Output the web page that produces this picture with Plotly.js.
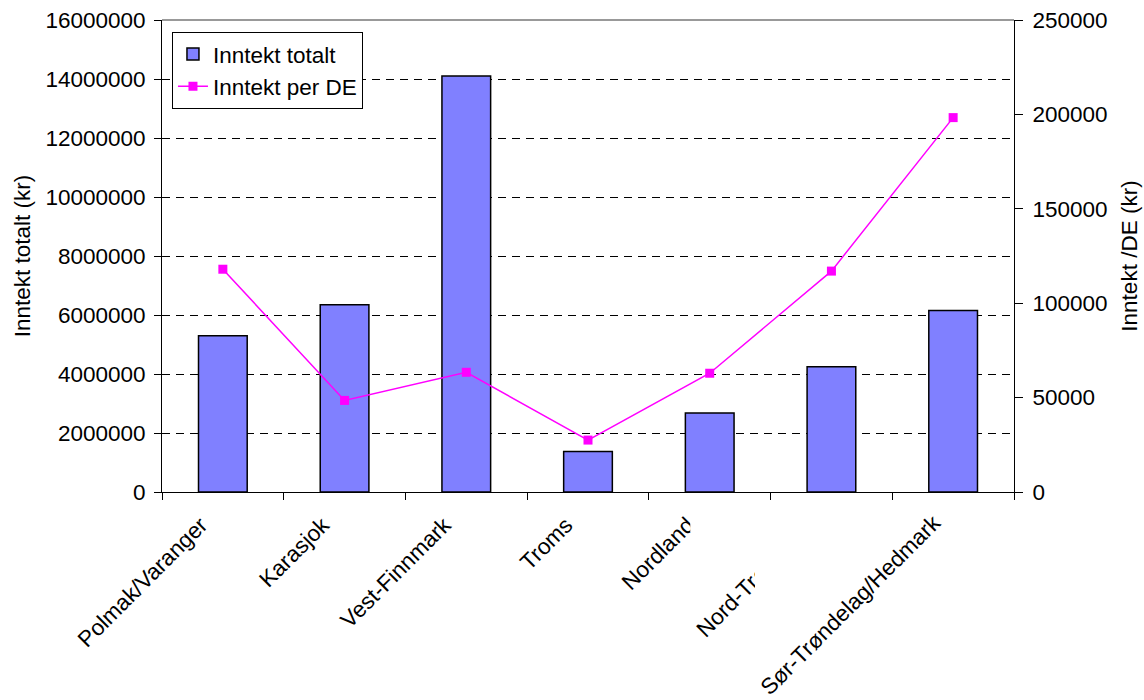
<!DOCTYPE html>
<html><head><meta charset="utf-8">
<script src="https://cdn.plot.ly/plotly-3.0.1.min.js"></script>
<style>html,body{margin:0;padding:0;background:#fff}#chart{width:1144px;height:700px}</style>
</head><body><div id="chart"></div>
<script>
const categories = ["Polmak/Varanger", "Karasjok", "Vest-Finnmark", "Troms", "Nordland", "Nord-Trøndelag", "Sør-Trøndelag/Hedmark"];
const inntektTotalt = [5300000, 6350000, 14100000, 1370000, 2680000, 4250000, 6150000];
const inntektPerDE = [118000, 48500, 63400, 27500, 62900, 117000, 198300];
const leftTickVals = [0, 2000000, 4000000, 6000000, 8000000, 10000000, 12000000, 14000000, 16000000];
const rightTickVals = [0, 50000, 100000, 150000, 200000, 250000];
const seriesNames = ["Inntekt totalt", "Inntekt per DE"];
const axisTitles = {left: "Inntekt totalt (kr)", right: "Inntekt /DE (kr)"};

const FONT = "Liberation Sans, Arial, sans-serif";
const fs = 22.5;

// last category label drawn above the white patch (as in the reference image)
const tickText = categories.map((c, i) => i === categories.length - 1 ? "" : c);

const traces = [
  {
    type: "bar", name: seriesNames[0], x: categories, y: inntektTotalt,
    marker: {color: "#8080FF", line: {color: "#000000", width: 1.5}},
    yaxis: "y"
  },
  {
    type: "scatter", mode: "lines+markers", name: seriesNames[1], x: categories, y: inntektPerDE,
    line: {color: "#FF00FF", width: 1.5},
    marker: {symbol: "square", size: 9, color: "#FF00FF"},
    yaxis: "y2"
  }
];

const layout = {
  width: 1144, height: 700,
  margin: {l: 162, r: 130, t: 20, b: 208},
  paper_bgcolor: "#ffffff", plot_bgcolor: "#ffffff",
  font: {family: FONT, size: fs, color: "#000"},
  bargap: 0.6,
  showlegend: true,
  legend: {
    x: 0.0117, y: 0.975, xanchor: "left", yanchor: "top",
    bgcolor: "#ffffff", bordercolor: "#000000", borderwidth: 1,
    font: {family: FONT, size: fs, color: "#000"}, traceorder: "normal"
  },
  xaxis: {
    type: "category", range: [-0.5, categories.length - 0.5],
    tickmode: "array", tickvals: categories, ticktext: tickText,
    tickson: "boundaries", ticks: "outside", ticklen: 7, tickcolor: "#000",
    tickangle: -45, tickfont: {family: FONT, size: fs, color: "#000"},
    ticklabelstandoff: 10, ticklabelshift: -22,
    showline: true, linecolor: "#000", linewidth: 1,
    showgrid: false, zeroline: false, fixedrange: true
  },
  yaxis: {
    range: [0, 16000000], tickmode: "array", tickvals: leftTickVals,
    ticktext: leftTickVals.map(String),
    ticks: "outside", ticklen: 7, tickcolor: "#000",
    tickfont: {family: FONT, size: fs, color: "#000"},
    ticklabelstandoff: 4,
    showline: true, linecolor: "#000", linewidth: 1,
    showgrid: true, gridcolor: "#000", gridwidth: 1, griddash: "8px,6px",
    zeroline: false,
    title: {text: axisTitles.left, font: {family: FONT, size: fs, color: "#000"}, standoff: 8}
  },
  yaxis2: {
    overlaying: "y", side: "right", anchor: "x",
    range: [0, 250000], tickmode: "array", tickvals: rightTickVals,
    ticktext: rightTickVals.map(String),
    ticks: "outside", ticklen: 8, tickcolor: "#000",
    tickfont: {family: FONT, size: fs, color: "#000"},
    ticklabelstandoff: 5,
    showline: true, linecolor: "#000", linewidth: 1,
    showgrid: false, zeroline: false,
    title: {text: axisTitles.right, font: {family: FONT, size: fs, color: "#000"}, standoff: 14}
  },
  shapes: [
    {type: "line", xref: "paper", yref: "paper", x0: 0, x1: 1, y0: 1, y1: 1,
     line: {color: "#777777", width: 1.5}, layer: "above"},
    {type: "rect", xref: "paper", yref: "paper", x0: 0.696, x1: 0.925, y0: -0.445, y1: -0.0424,
     fillcolor: "#ffffff", line: {width: 0}, layer: "above"},
    {type: "rect", xref: "paper", yref: "paper", x0: 0.62, x1: 0.697, y0: -0.085, y1: -0.018,
     fillcolor: "#ffffff", line: {width: 0}, layer: "above"}
  ],
  annotations: [
    {text: categories[categories.length - 1], x: categories[categories.length - 1], xref: "x",
     y: 0, yref: "paper", xanchor: "right", yanchor: "top", textangle: -45,
     showarrow: false, font: {family: FONT, size: fs, color: "#000"}, xshift: -4, yshift: -15}
  ]
};

Plotly.newPlot("chart", traces, layout, {displayModeBar: false, staticPlot: true});
</script>
</body></html>
